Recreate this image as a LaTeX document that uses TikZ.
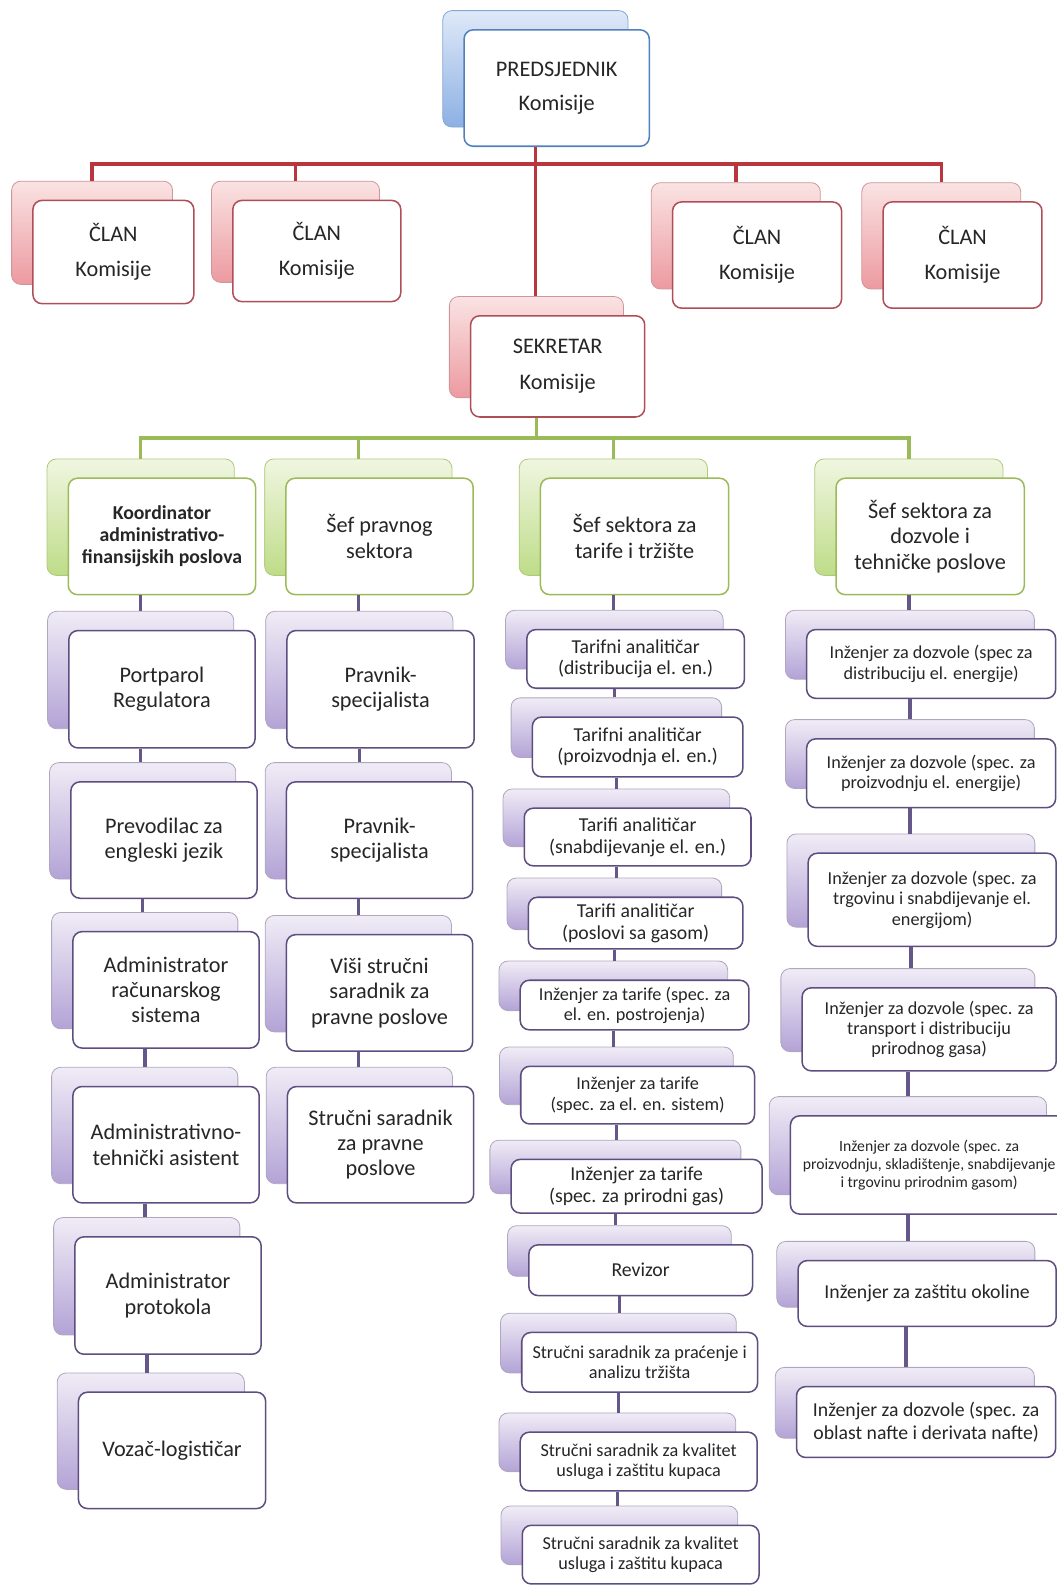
\documentclass[tikz,border=0pt]{standalone}
\usepackage{fontspec}
\setmainfont{Carlito}
\usetikzlibrary{positioning,calc}

\definecolor{predEdge}{HTML}{4F81BD}
\definecolor{predTop}{HTML}{DFE9F8}
\definecolor{predBot}{HTML}{8CB0E4}
\definecolor{clanEdge}{HTML}{B04E58}
\definecolor{clanTop}{HTML}{FAE3E3}
\definecolor{clanBot}{HTML}{EC9AA0}
\definecolor{clanLine}{HTML}{B9363F}
\definecolor{sefEdge}{HTML}{9BBB59}
\definecolor{sefTop}{HTML}{F0F6E1}
\definecolor{sefBot}{HTML}{BEDC88}
\definecolor{radEdge}{HTML}{5E4E80}
\definecolor{radTop}{HTML}{F0ECF6}
\definecolor{radBot}{HTML}{B3A3D6}
\definecolor{radLine}{HTML}{65578A}

\tikzset{
  wh/.style 2 args={minimum width=#1pt, minimum height=#2pt},
  fs/.style 2 args={font=\fontsize{#1pt}{#2pt}\selectfont},
  fsb/.style 2 args={font=\fontsize{#1pt}{#2pt}\selectfont\bfseries},
  box/.style={fill=white, rounded corners=9pt, line width=1.5pt, align=center,
              inner sep=0pt, text=black!85},
  back/.style={rounded corners=9pt, line width=0.8pt, inner sep=0pt},
  pred box/.style={box, draw=predEdge},
  pred back/.style={back, draw=predEdge!70, top color=predTop, bottom color=predBot},
  clan box/.style={box, draw=clanEdge},
  clan back/.style={back, draw=clanEdge!60, top color=clanTop, bottom color=clanBot},
  sef box/.style={box, draw=sefEdge},
  sef back/.style={back, draw=sefEdge!80, top color=sefTop, bottom color=sefBot},
  rad box/.style={box, draw=radEdge},
  rad back/.style={back, draw=radEdge!50, top color=radTop, bottom color=radBot},
  conn/.style={line width=3.5pt},
  clan line/.style={conn, draw=clanLine},
  sef line/.style={conn, draw=sefEdge},
  rad line/.style={conn, draw=radLine}
}

% back card + front card
\newcommand{\orgbox}[6]{%
  \node[#2 back, #5] (bk#1) at (#3-21,#4+19) {};
  \node[#2 box, #5] (#1) at (#3,#4) {#6};}

\begin{document}
\begin{tikzpicture}[x=1pt,y=1pt]
\useasboundingbox (0,0) rectangle (1044,-1568);

% Komisija
\orgbox{pred}{pred}{550}{-87}{wh={183}{115},fs={22}{34}}{PREDSJEDNIK\\Komisije}
\orgbox{m1}{clan}{112}{-249}{wh={159}{102},fs={22}{35}}{ČLAN\\Komisije}
\orgbox{m2}{clan}{313}{-248}{wh={166}{100},fs={22}{35}}{ČLAN\\Komisije}
\orgbox{m3}{clan}{748}{-252}{wh={167}{105},fs={22}{35}}{ČLAN\\Komisije}
\orgbox{m4}{clan}{951}{-252}{wh={157}{105},fs={22}{35}}{ČLAN\\Komisije}
\orgbox{sek}{clan}{551}{-362}{wh={172}{100},fs={22}{35}}{SEKRETAR\\Komisije}

% sefovi sektora
\orgbox{s1}{sef}{160}{-530}{wh={185}{115},fsb={19.5}{22}}{Koordinator\\administrativo-\\finansijskih poslova}
\orgbox{s2}{sef}{375}{-530}{wh={185}{115},fs={22}{25}}{Šef pravnog\\sektora}
\orgbox{s3}{sef}{627}{-530}{wh={186}{115},fs={22}{25}}{Šef sektora za\\tarife i tržište}
\orgbox{s4}{sef}{919}{-530}{wh={186}{115},fs={22}{25}}{Šef sektora za\\dozvole i\\tehničke poslove}

% kolona 1
\orgbox{a1}{rad}{160}{-681}{wh={184}{116},fs={22}{25}}{Portparol\\Regulatora}
\orgbox{a2}{rad}{162}{-830}{wh={184}{115},fs={22}{25}}{Prevodilac za\\engleski jezik}
\orgbox{a3}{rad}{164}{-978}{wh={184}{115},fs={22}{25}}{Administrator\\računarskog\\sistema}
\orgbox{a4}{rad}{164}{-1131}{wh={184}{115},fs={22}{25}}{Administrativno-\\tehnički asistent}
\orgbox{a5}{rad}{166}{-1280}{wh={184}{116},fs={22}{25}}{Administrator\\protokola}
\orgbox{a6}{rad}{170}{-1433}{wh={185}{115},fs={22}{25}}{Vozač-logističar}

% kolona 2
\orgbox{b1}{rad}{376}{-681}{wh={185}{116},fs={22}{25}}{Pravnik-\\specijalista}
\orgbox{b2}{rad}{375}{-830}{wh={184}{115},fs={22}{25}}{Pravnik-\\specijalista}
\orgbox{b3}{rad}{375}{-981}{wh={184}{115},fs={22}{25}}{Viši stručni\\saradnik za\\pravne poslove}
\orgbox{b4}{rad}{376}{-1131}{wh={184}{115},fs={22}{25}}{Stručni saradnik\\za pravne\\poslove}

% kolona 3
\orgbox{t1}{rad}{628}{-651}{wh={215}{58},fs={19.5}{21.5}}{Tarifni analitičar\\(distribucija el. en.)}
\orgbox{t2}{rad}{630}{-738}{wh={208}{59},fs={19.5}{21.5}}{Tarifni analitičar\\(proizvodnja el. en.)}
\orgbox{t3}{rad}{630}{-827}{wh={224}{57},fs={19.5}{21.5}}{Tarifi analitičar\\(snabdijevanje el. en.)}
\orgbox{t4}{rad}{628}{-912}{wh={212}{51},fs={19.5}{21.5}}{Tarifi analitičar\\(poslovi sa gasom)}
\orgbox{t5}{rad}{627}{-993}{wh={226}{49},fs={18}{20}}{Inženjer za tarife (spec. za\\el. en. postrojenja)}
\orgbox{t6}{rad}{630}{-1082}{wh={231}{57},fs={18}{20}}{Inženjer za tarife\\(spec. za el. en. sistem)}
\orgbox{t7}{rad}{629}{-1172}{wh={248}{53},fs={19.5}{21.5}}{Inženjer za tarife\\(spec. za prirodni gas)}
\orgbox{t8}{rad}{633}{-1255}{wh={221}{50},fs={19.5}{21.5}}{Revizor}
\orgbox{t9}{rad}{632}{-1346}{wh={233}{59},fs={18}{20}}{Stručni saradnik za praćenje i\\analizu tržišta}
\orgbox{t10}{rad}{631}{-1444}{wh={234}{58},fs={18}{20}}{Stručni saradnik za kvalitet\\usluga i zaštitu kupaca}
\orgbox{t11}{rad}{633}{-1536}{wh={234}{58},fs={18}{20}}{Stručni saradnik za kvalitet\\usluga i zaštitu kupaca}

% kolona 4
\orgbox{d1}{rad}{920}{-656}{wh={246}{68},fs={18}{20}}{Inženjer za dozvole (spec za\\distribuciju el. energije)}
\orgbox{d2}{rad}{920}{-764}{wh={246}{68},fs={18}{20}}{Inženjer za dozvole (spec. za\\proizvodnju el. energije)}
\orgbox{d3}{rad}{921}{-889}{wh={245}{92},fs={18}{20}}{Inženjer za dozvole (spec. za\\trgovinu i snabdijevanje el.\\energijom)}
\orgbox{d4}{rad}{918}{-1017}{wh={251}{82},fs={18}{20}}{Inženjer za dozvole (spec. za\\transport i distribuciju\\prirodnog gasa)}
\orgbox{d5}{rad}{918}{-1151}{wh={274}{97},fs={15.5}{17.5}}{Inženjer za dozvole (spec. za\\proizvodnju, skladištenje, snabdijevanje\\i trgovinu prirodnim gasom)}
\orgbox{d6}{rad}{916}{-1278}{wh={255}{65},fs={19.5}{22}}{Inženjer za zaštitu okoline}
\orgbox{d7}{rad}{915}{-1405}{wh={256}{70},fs={19.5}{22}}{Inženjer za dozvole (spec. za\\oblast nafte i derivata nafte)}

% veze
\coordinate (redbus) at (0,-162);
\coordinate (grnbus) at (0,-433);
\draw[clan line] (bkpred|-pred.south) -- (bkpred|-bksek.north);
\draw[clan line] (bkm1.north) -- (bkm1|-redbus) -- (bkm4|-redbus) -- (bkm4.north);
\foreach \m in {m2,m3}
  \draw[clan line] (bk\m.north) -- (bk\m|-redbus);
\draw[sef line] (bksek|-sek.south) -- (bksek|-grnbus);
\draw[sef line] (bks1.north) -- (bks1|-grnbus) -- (bks4|-grnbus) -- (bks4.north);
\foreach \s in {s2,s3}
  \draw[sef line] (bk\s.north) -- (bk\s|-grnbus);
\foreach \u/\v in {s1/a1,a1/a2,a2/a3,a3/a4,a4/a5,a5/a6,
                   s2/b1,b1/b2,b2/b3,b3/b4,
                   s3/t1,t1/t2,t2/t3,t3/t4,t4/t5,t5/t6,t6/t7,t7/t8,t8/t9,t9/t10,t10/t11,
                   s4/d1,d1/d2,d2/d3,d3/d4,d4/d5,d5/d6,d6/d7}
  \draw[rad line] (bk\u|-\u.south) -- (bk\u|-bk\v.north);
\end{tikzpicture}
\end{document}
